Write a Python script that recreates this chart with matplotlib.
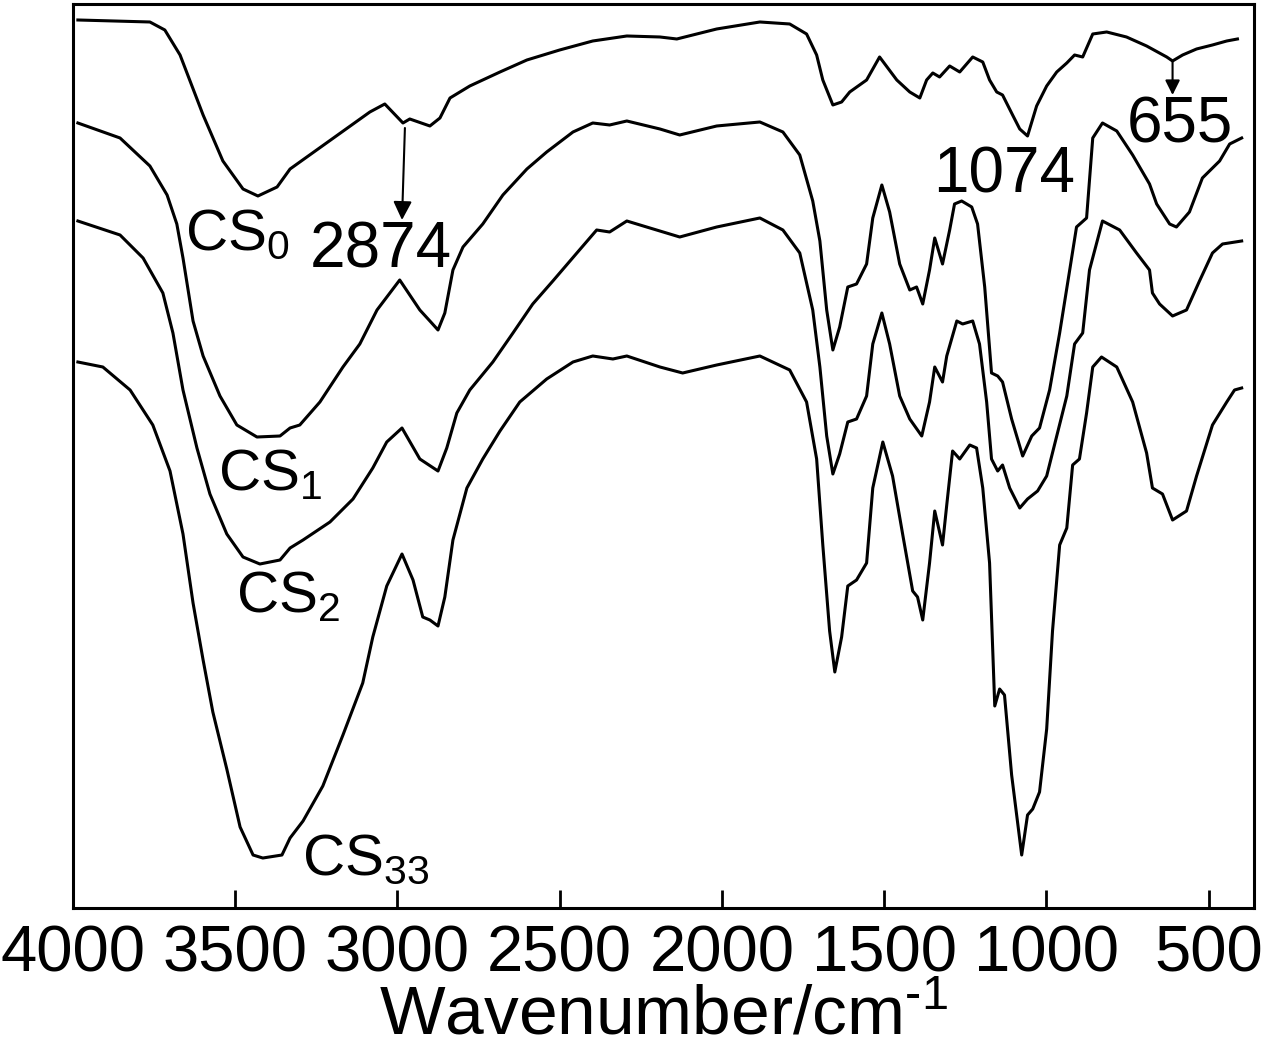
import numpy as np
import matplotlib
matplotlib.use('Agg')
import matplotlib.pyplot as plt

plt.rcParams['font.family'] = ['Liberation Sans', 'DejaVu Sans']
plt.rcParams['mathtext.fontset'] = 'custom'
plt.rcParams['mathtext.rm'] = 'Liberation Sans'
plt.rcParams['mathtext.it'] = 'Liberation Sans'

# FTIR spectra, transmittance in arbitrary units (curves are offset)
wn_cs0 = [3985, 3763, 3717, 3670, 3599, 3538, 3476, 3430, 3371, 3331, 3085, 3039,
          2983, 2962, 2900, 2869, 2838, 2777, 2684, 2601, 2500, 2398, 2293, 2191,
          2139, 2016, 1883, 1791, 1739, 1708, 1689, 1658, 1631, 1606, 1554, 1514,
          1461, 1421, 1390, 1369, 1350, 1329, 1298, 1267, 1227, 1196, 1175, 1153,
          1135, 1104, 1082, 1058, 1030, 999, 968, 937, 913, 888, 857, 814, 753,
          691, 629, 611, 580, 537, 488, 444, 411]
t_cs0 = [88.8, 88.6, 87.8, 85.3, 79.3, 74.7, 71.9, 71.2, 72.1, 73.9, 79.6, 80.4,
         78.5, 78.9, 78.2, 79.0, 81.0, 82.2, 83.6, 84.8, 85.8, 86.7, 87.2, 87.1,
         86.9, 87.9, 88.6, 88.4, 87.4, 85.3, 82.8, 80.3, 80.6, 81.6, 82.8, 85.1,
         82.8, 81.6, 81.0, 82.8, 83.5, 83.1, 84.2, 83.6, 85.1, 84.6, 82.8, 81.6,
         81.3, 79.3, 77.9, 77.2, 80.2, 82.2, 83.6, 84.5, 85.3, 85.1, 87.4, 87.6, 87.1,
         86.2, 85.1, 84.7, 85.3, 85.9, 86.3, 86.7, 86.9]

wn_cs1 = [3985, 3855, 3763, 3710, 3680, 3661, 3630, 3599, 3547, 3495, 3433, 3362,
          3331, 3301, 3239, 3168, 3116, 3063, 2993, 2931, 2900, 2875, 2854, 2829,
          2798, 2737, 2675, 2601, 2540, 2459, 2398, 2346, 2293, 2191, 2130, 2016,
          1883, 1812, 1760, 1720, 1698, 1677, 1658, 1637, 1612, 1585, 1554, 1535,
          1507, 1483, 1452, 1421, 1400, 1381, 1360, 1344, 1320, 1298, 1283, 1261,
          1230, 1212, 1190, 1169, 1150, 1135, 1107, 1073, 1045, 1021, 990, 959,
          928, 907, 876, 857, 827, 783, 734, 682, 660, 620, 599, 559, 519, 466,
          435, 398]
t_cs1 = [78.5, 77.0, 74.2, 71.3, 68.4, 65.0, 58.7, 55.2, 51.2, 48.3, 47.1, 47.2,
         48.0, 48.3, 50.6, 54.1, 56.4, 59.8, 62.8, 59.8, 58.7, 57.8, 59.5, 63.8,
         66.1, 68.4, 71.3, 73.9, 75.6, 77.6, 78.5, 78.3, 78.7, 77.9, 77.3, 78.2,
         78.6, 77.6, 75.3, 70.7, 66.7, 59.8, 55.8, 58.1, 62.1, 62.4, 64.4, 69.0,
         72.3, 69.6, 64.4, 61.8, 62.1, 60.4, 63.8, 67.0, 64.4, 67.8, 70.4, 70.7,
         70.1, 68.4, 62.1, 53.5, 53.2, 52.6, 48.9, 45.2, 47.2, 48.0, 51.8, 57.5,
         63.8, 68.1, 69.0, 77.0, 78.5, 77.7, 75.3, 72.4, 70.4, 68.4, 68.1, 69.6,
         73.0, 74.7, 76.4, 77.0]

wn_cs2 = [3985, 3855, 3784, 3723, 3692, 3661, 3618, 3578, 3526, 3476, 3424, 3362,
          3331, 3291, 3208, 3137, 3076, 3033, 2986, 2931, 2875, 2848, 2817, 2777,
          2706, 2644, 2583, 2521, 2447, 2386, 2346, 2293, 2232, 2130, 2016, 1883,
          1812, 1760, 1720, 1698, 1677, 1658, 1637, 1612, 1585, 1554, 1535, 1507,
          1483, 1452, 1421, 1384, 1360, 1344, 1320, 1307, 1276, 1258, 1227, 1206,
          1184, 1169, 1150, 1135, 1113, 1082, 1058, 1027, 999, 968, 937, 913, 888,
          867, 827, 774, 722, 682, 673, 651, 611, 568, 528, 488, 457, 398]
t_cs2 = [68.7, 67.3, 65.0, 61.5, 57.5, 51.8, 46.0, 41.4, 37.4, 35.1, 34.4, 34.8,
         36.0, 36.8, 38.6, 40.9, 44.0, 46.6, 48.0, 44.9, 43.7, 46.0, 49.5, 51.8,
         54.6, 57.5, 60.4, 62.7, 65.5, 67.8, 67.6, 68.7, 68.1, 67.1, 68.1, 69.0,
         67.8, 65.5, 59.8, 54.1, 47.2, 43.4, 45.4, 48.6, 48.9, 51.2, 56.4, 59.5,
         56.4, 51.2, 48.9, 47.2, 50.6, 54.1, 52.6, 55.2, 58.7, 58.4, 58.7, 56.4,
         50.6, 44.9, 43.7, 44.3, 42.0, 40.0, 40.9, 41.7, 43.2, 47.2, 51.2, 56.4, 57.5,
         63.8, 68.7, 67.8, 65.5, 63.8, 61.5, 60.4, 59.2, 59.8, 62.7, 65.5, 66.4, 66.7]

wn_cs33 = [3985, 3908, 3824, 3754, 3701, 3661, 3630, 3599, 3569, 3526, 3485, 3445,
           3415, 3356, 3331, 3291, 3230, 3168, 3107, 3076, 3033, 2986, 2952, 2922,
           2900, 2875, 2854, 2829, 2786, 2737, 2684, 2623, 2540, 2459, 2398, 2336,
           2293, 2191, 2121, 2016, 1883, 1791, 1739, 1708, 1689, 1668, 1652, 1631,
           1612, 1585, 1554, 1535, 1504, 1474, 1443, 1412, 1397, 1381, 1360, 1344,
           1320, 1307, 1289, 1267, 1236, 1215, 1196, 1175, 1159, 1144, 1129, 1107,
           1076, 1058, 1042, 1021, 999, 981, 959, 937, 919, 898, 876, 857, 830, 783,
           734, 691, 673, 642, 611, 568, 537, 488, 444, 420, 398]
t_cs33 = [54.6, 54.1, 51.8, 48.3, 43.7, 37.4, 30.5, 24.8, 19.6, 13.9, 8.1, 5.3,
          5.0, 5.3, 7.0, 8.7, 12.2, 17.3, 22.5, 27.1, 32.2, 35.4, 32.8, 29.1,
          28.8, 28.2, 31.1, 36.8, 42.0, 44.9, 47.7, 50.6, 52.9, 54.6, 55.2, 54.9,
          55.2, 54.1, 53.5, 54.3, 55.2, 53.8, 50.6, 44.9, 36.3, 27.7, 23.6, 27.1,
          32.2, 32.8, 34.5, 42.0, 46.6, 43.2, 37.4, 31.7, 31.1, 28.8, 34.5, 39.7,
          36.3, 40.3, 45.7, 44.9, 46.3, 46.0, 42.0, 34.5, 20.2, 21.9, 21.3, 13.3,
          5.3, 9.3, 9.9, 11.6, 17.9, 27.7, 36.3, 38.0, 44.3, 44.9, 49.5, 54.1, 55.1, 54.1,
          50.6, 45.5, 42.0, 41.4, 38.8, 39.7, 43.2, 48.3, 50.6, 51.8, 52.0]

sample_labels = ['CS$_0$', 'CS$_1$', 'CS$_2$', 'CS$_{33}$']
label_pos = [(3655, 65.8), (3553, 41.8), (3498, 29.6), (3294, 3.3)]

fig = plt.figure(figsize=(12.74, 10.49), dpi=100)
ax = fig.add_axes([0.0573, 0.1344, 0.927, 0.8618])

for wn, t in [(wn_cs0, t_cs0), (wn_cs1, t_cs1), (wn_cs2, t_cs2), (wn_cs33, t_cs33)]:
    ax.plot(wn, t, color='k', lw=2.2, solid_joinstyle='round')

for lab, (x, y) in zip(sample_labels, label_pos):
    ax.text(x, y, lab, fontsize=42, ha='left', va='baseline')

# peak annotations
ax.annotate('', xy=(2986, 68.8), xytext=(2977, 78.0),
            arrowprops=dict(arrowstyle='-|>', lw=1.5, color='k', mutation_scale=28,
                            shrinkA=0, shrinkB=0))
ax.text(3270, 64.0, '2874', fontsize=46, ha='left', va='baseline')
ax.text(1350, 71.5, '1074', fontsize=46, ha='left', va='baseline')
ax.annotate('', xy=(611, 81.3), xytext=(611, 84.6),
            arrowprops=dict(arrowstyle='-|>', lw=1.5, color='k', mutation_scale=22,
                            shrinkA=0, shrinkB=0))
ax.text(753, 76.5, '655', fontsize=46, ha='left', va='baseline')

ax.set_xlim(4000, 360)
ax.set_ylim(0, 90.4)
ax.set_xticks([4000, 3500, 3000, 2500, 2000, 1500, 1000, 500])
ax.set_yticks([])
ax.tick_params(axis='x', direction='in', length=13, width=2, pad=12, labelsize=47)
for sp in ax.spines.values():
    sp.set_linewidth(2.2)
ax.set_xlabel(r'Wavenumber/cm$^{\text{-1}}$', fontsize=50, labelpad=0)

plt.savefig('out.png', dpi=100)
